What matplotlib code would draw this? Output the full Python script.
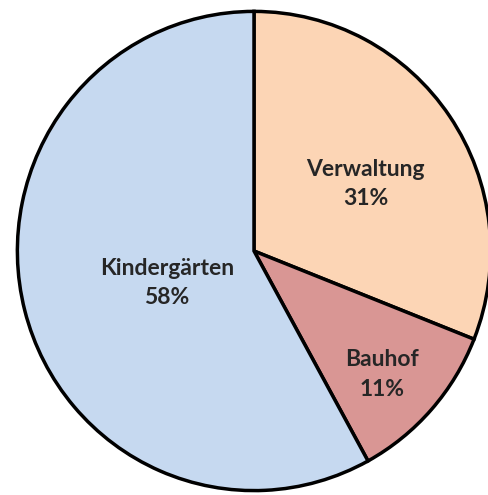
import numpy as np
from matplotlib import pyplot as plt

categories = ["Verwaltung", "Bauhof", "Kindergärten"]
shares = [31, 11, 58]

colors = ["#FCD5B5", "#D99694", "#C6D9F0"]
label_dist = [0.57, 0.72, 0.38]  # radial position of each label

fig = plt.figure(figsize=(4.88, 4.95), dpi=100)
# slightly wider than the figure so the right rim is clipped like the original
ax = fig.add_axes([15 / 488, 2 / 495, 478 / 488, 484 / 495])
wedges, _ = ax.pie(shares, colors=colors, startangle=90, counterclock=False,
                   wedgeprops=dict(edgecolor="black", linewidth=2.5))
ax.set_aspect("auto")
ax.set_xlim(-1.01, 1.01)
ax.set_ylim(-1.01, 1.01)

for w, name, val, d in zip(wedges, categories, shares, label_dist):
  mid = np.deg2rad((w.theta1 + w.theta2) / 2)
  ax.text(d * np.cos(mid), d * np.sin(mid) - 0.04, f"{name}\n{val}%",
          ha="center", va="center", fontsize=16.5, fontweight="bold",
          family="Lato", color="#262626", linespacing=1.5)

plt.savefig("out.png")
